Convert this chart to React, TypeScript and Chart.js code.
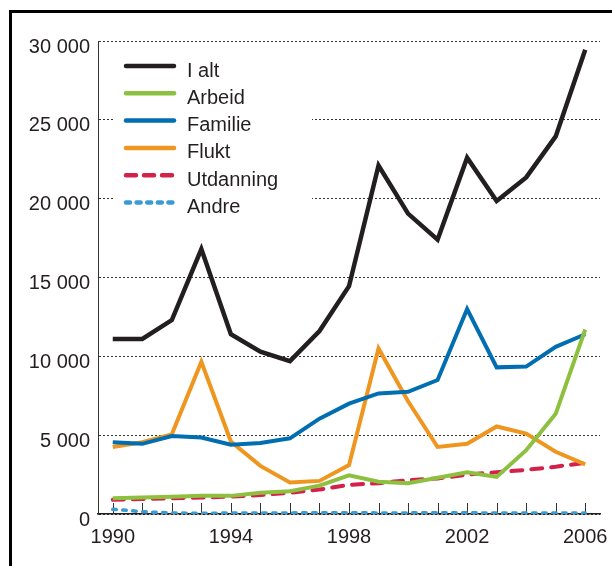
import React, { useEffect, useRef } from "react";
import { Chart, registerables } from "chart.js";

Chart.register(...registerables);

const years = [1990, 1991, 1992, 1993, 1994, 1995, 1996, 1997, 1998, 1999, 2000, 2001, 2002, 2003, 2004, 2005, 2006];
const seriesNames = ["I alt", "Arbeid", "Familie", "Flukt", "Utdanning", "Andre"];
const iAlt = [11100, 11100, 12300, 16800, 11400, 10300, 9700, 11600, 14450, 22100, 19050, 17400, 22600, 19850, 21350, 23950, 29450];
const arbeid = [1000, 1050, 1100, 1150, 1150, 1350, 1450, 1800, 2450, 2050, 1950, 2300, 2650, 2350, 4050, 6350, 11700];
const familie = [4550, 4450, 4950, 4850, 4400, 4500, 4800, 6050, 7000, 7650, 7750, 8500, 13000, 9300, 9350, 10600, 11400];
const flukt = [4250, 4550, 5050, 9650, 4600, 3050, 2000, 2100, 3100, 10500, 7150, 4250, 4450, 5550, 5100, 3950, 3150];
const utdanning = [900, 950, 1000, 1050, 1100, 1200, 1350, 1550, 1850, 1950, 2150, 2250, 2500, 2650, 2800, 3000, 3250];
const andre = [300, 150, 60, 50, 60, 60, 70, 80, 80, 70, 70, 80, 80, 60, 70, 70, 60];
const labeledYears = [1990, 1994, 1998, 2002, 2006];

const colors = ["#231f20", "#8dc03f", "#006eb0", "#ee9620", "#d2224a", "#3b9ad2"];
const dashes: number[][] = [[], [], [], [], [11, 9], [3.5, 6.5]];
const widths = [4.5, 4, 4, 4, 4, 3.5];
const caps = ["butt", "butt", "butt", "butt", "round", "round"];

const FONT = "'Liberation Sans', Arial, sans-serif";

function fmt(v: number) {
  const s = String(Math.round(v));
  return s.replace(/\B(?=(\d{3})+(?!\d))/g, " ");
}

const tickMarks = {
  id: "tickMarks",
  beforeDatasetsDraw(chart: any) {
    const { ctx, scales, chartArea } = chart;
    const xs = scales.x;
    ctx.save();
    ctx.strokeStyle = "#333";
    ctx.lineWidth = 1;
    for (const yr of years) {
      const x = Math.round(xs.getPixelForValue(yr)) + 0.5;
      ctx.beginPath();
      ctx.moveTo(x, chartArea.bottom - 11);
      ctx.lineTo(x, chartArea.bottom);
      ctx.stroke();
    }
    ctx.restore();
  },
};

const innerLegend = {
  id: "innerLegend",
  beforeDatasetsDraw(chart: any) {
    const { ctx } = chart;
    ctx.save();
    ctx.fillStyle = "#ffffff";
    ctx.fillRect(115, 50, 197, 170);
    const x0 = 124, x1 = 176, tx = 187;
    const y0 = 66, dy = 27.3;
    ctx.font = `20px ${FONT}`;
    ctx.textBaseline = "alphabetic";
    ctx.textAlign = "left";
    seriesNames.forEach((name, i) => {
      const y = y0 + i * dy;
      ctx.beginPath();
      ctx.strokeStyle = colors[i];
      ctx.lineWidth = 4.5;
      ctx.lineCap = "round";
      if (i === 4) ctx.setLineDash([10, 8]);
      else if (i === 5) ctx.setLineDash([4, 6.6]);
      else ctx.setLineDash([]);
      ctx.moveTo(x0 + 2, y);
      ctx.lineTo(x1 - 2, y);
      ctx.stroke();
      ctx.setLineDash([]);
      ctx.fillStyle = "#231f20";
      ctx.fillText(name, tx, y + 10.5);
    });
    ctx.restore();
  },
};

export default function App() {
  const ref = useRef<HTMLCanvasElement | null>(null);
  useEffect(() => {
    if (!ref.current) return;
    const all = [iAlt, arbeid, familie, flukt, utdanning, andre];
    const chart = new Chart(ref.current, {
      type: "line",
      data: {
        datasets: all.map((vals, i) => ({
          label: seriesNames[i],
          data: years.map((yr, j) => ({ x: yr, y: vals[j] })),
          borderColor: colors[i],
          backgroundColor: colors[i],
          borderWidth: widths[i],
          borderDash: dashes[i],
          borderCapStyle: caps[i] as any,
          borderJoinStyle: "miter" as any,
          pointRadius: 0,
          tension: 0,
          fill: false,
        })),
      },
      options: {
        responsive: false,
        animation: false,
        layout: { padding: { left: 8, top: 41, right: 12, bottom: 0 } },
        plugins: { legend: { display: false }, tooltip: { enabled: false } },
        scales: {
          x: {
            type: "linear",
            min: 1989.5,
            max: 2006.5,
            afterFit: (s: any) => { s.height = 52; s.paddingLeft = 0; s.paddingRight = 0; },
            afterBuildTicks: (s: any) => { s.ticks = years.map((v) => ({ value: v })); },
            grid: { display: false, drawTicks: false },
            border: { display: true, color: "#231f20", width: 1.5 },
            ticks: {
              autoSkip: false,
              maxRotation: 0,
              minRotation: 0,
              padding: 11,
              color: "#231f20",
              font: { family: FONT, size: 20 },
              callback: (v: any) => (labeledYears.includes(Number(v)) ? String(v) : ""),
            },
          },
          y: {
            min: 0,
            max: 30000,
            afterFit: (s: any) => { s.width = 90; s.paddingTop = 0; s.paddingBottom = 0; },
            grid: { color: "#333", lineWidth: 1, drawTicks: false },
            border: { display: true, color: "#333", width: 1, dash: [2, 2] },
            ticks: {
              stepSize: 5000,
              padding: 8,
              labelOffset: 6,
              color: "#231f20",
              font: { family: FONT, size: 20 },
              callback: (v: any) => fmt(Number(v)),
            },
          },
        },
      },
      plugins: [tickMarks, innerLegend],
    });
    return () => chart.destroy();
  }, []);
  return (
    <div style={{ position: "fixed", left: 0, top: 0, width: 612, height: 566, background: "#fff" }}>
      <div
        style={{
          position: "absolute",
          left: 9,
          top: 10,
          right: 0,
          bottom: 0,
          borderTop: "3px solid #000",
          borderLeft: "3px solid #000",
        }}
      />
      <canvas ref={ref} width={612} height={566} style={{ position: "absolute", left: 0, top: 0 }} />
    </div>
  );
}
